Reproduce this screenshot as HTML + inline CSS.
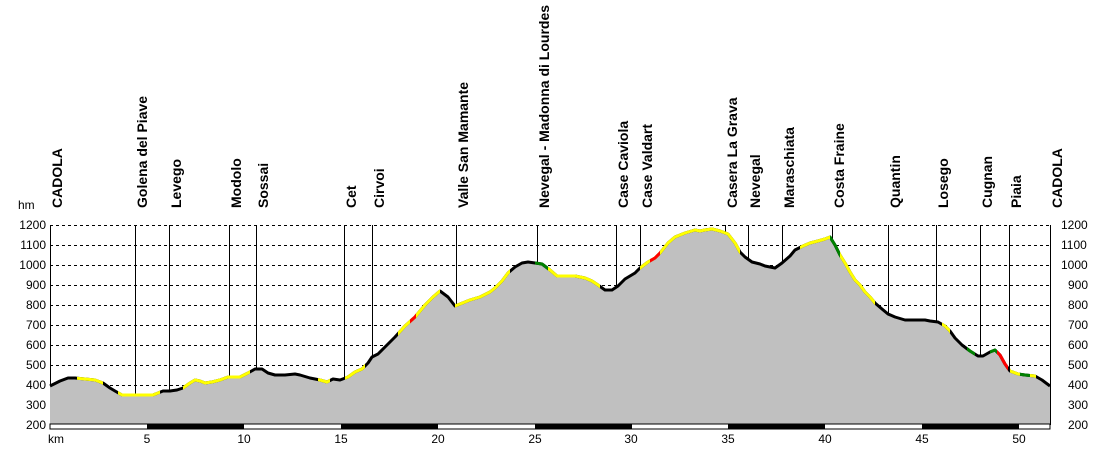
<!DOCTYPE html>
<html><head><meta charset="utf-8"><style>
html,body{margin:0;padding:0;background:#fff}
svg{display:block}
text{font-family:"Liberation Sans",sans-serif;font-size:12px;fill:#000}
.lb{font-weight:bold;font-size:14px}
</style></head><body>
<svg width="1100" height="450" viewBox="0 0 1100 450">
<defs>
<path id="pr" d="M50,386 L60,381 68,378 75,378 85,379 95,380 103,383 110,388 115,391 122,395 130,395 140,395 148,395 153,395 158,393 163,391 170,391 177,390 183,388 190,383 195,380 200,381 205,383 212,382 220,380 228,377 240,377 248,373 255,369 262,369 268,373 275,375 285,375 295,374 300,375 310,378 320,380 327,382 333,379 340,380 348,377 355,372 362,369 368,363 372,357 378,354 385,347 395,337 405,326 415,317 425,305 433,297 440,291 448,297 455,306 460,304 470,300 480,297 490,292 495,288 502,281 508,273 515,267 522,263 528,262 535,263 542,264 550,270 557,276 565,276 575,276 585,278 592,281 598,285 605,290 612,290 618,286 625,279 635,273 640,268 648,262 655,258 660,253 668,243 675,237 685,233 695,230 700,231 705,230 712,229 720,231 728,234 735,243 740,252 745,257 752,262 760,264 765,266 775,268 782,263 790,256 795,250 803,246 810,243 818,241 825,239 830,237 835,245 840,255 845,263 850,272 855,280 860,285 865,292 870,297 875,303 882,309 888,314 895,317 905,320 915,320 925,320 930,321 938,322 945,326 950,331 955,338 962,345 970,351 978,356 983,356 990,352 995,350 1000,355 1005,364 1010,371 1018,374 1025,375 1035,376 1042,380 1050,386"/>
<clipPath id="cy"><rect x="77" y="0" width="26" height="450"/><rect x="118" y="0" width="42" height="450"/><rect x="183" y="0" width="67" height="450"/><rect x="318" y="0" width="12" height="450"/><rect x="345" y="0" width="20" height="450"/><rect x="398" y="0" width="42" height="450"/><rect x="455" y="0" width="55" height="450"/><rect x="548" y="0" width="52" height="450"/><rect x="640" y="0" width="100" height="450"/><rect x="800" y="0" width="30" height="450"/><rect x="840" y="0" width="35" height="450"/><rect x="942" y="0" width="8" height="450"/><rect x="1010" y="0" width="10" height="450"/><rect x="1030" y="0" width="6" height="450"/></clipPath>
<clipPath id="cg"><rect x="535" y="0" width="13" height="450"/><rect x="830" y="0" width="10" height="450"/><rect x="967" y="0" width="8" height="450"/><rect x="990" y="0" width="7" height="450"/><rect x="1020" y="0" width="10" height="450"/></clipPath>
<clipPath id="cr"><rect x="410" y="0" width="6" height="450"/><rect x="650" y="0" width="10" height="450"/><rect x="997" y="0" width="11" height="450"/></clipPath>
</defs>
<g stroke="#000" stroke-dasharray="3,3" stroke-width="1">
<line x1="50" x2="1050" y1="225.5" y2="225.5"/><line x1="50" x2="1050" y1="245.5" y2="245.5"/><line x1="50" x2="1050" y1="265.5" y2="265.5"/><line x1="50" x2="1050" y1="285.5" y2="285.5"/><line x1="50" x2="1050" y1="305.5" y2="305.5"/><line x1="50" x2="1050" y1="325.5" y2="325.5"/><line x1="50" x2="1050" y1="345.5" y2="345.5"/><line x1="50" x2="1050" y1="365.5" y2="365.5"/><line x1="50" x2="1050" y1="385.5" y2="385.5"/><line x1="50" x2="1050" y1="405.5" y2="405.5"/>
</g>
<g stroke="#000" stroke-width="1">
<line x1="50.5" x2="50.5" y1="225" y2="425"/><line x1="135.5" x2="135.5" y1="225" y2="395"/><line x1="169.5" x2="169.5" y1="225" y2="391"/><line x1="229.5" x2="229.5" y1="225" y2="377"/><line x1="256.5" x2="256.5" y1="225" y2="369"/><line x1="344.5" x2="344.5" y1="225" y2="378"/><line x1="372.5" x2="372.5" y1="225" y2="357"/><line x1="456.5" x2="456.5" y1="225" y2="306"/><line x1="537.5" x2="537.5" y1="225" y2="264"/><line x1="616.5" x2="616.5" y1="225" y2="289"/><line x1="640.5" x2="640.5" y1="225" y2="268"/><line x1="725.5" x2="725.5" y1="225" y2="232"/><line x1="748.5" x2="748.5" y1="225" y2="261"/><line x1="782.5" x2="782.5" y1="225" y2="263"/><line x1="832.5" x2="832.5" y1="225" y2="240"/><line x1="888.5" x2="888.5" y1="225" y2="314"/><line x1="936.5" x2="936.5" y1="225" y2="322"/><line x1="980.5" x2="980.5" y1="225" y2="356"/><line x1="1009.5" x2="1009.5" y1="225" y2="371"/><line x1="1050.5" x2="1050.5" y1="225" y2="425"/>
</g>
<path d="M50,386 L60,381 68,378 75,378 85,379 95,380 103,383 110,388 115,391 122,395 130,395 140,395 148,395 153,395 158,393 163,391 170,391 177,390 183,388 190,383 195,380 200,381 205,383 212,382 220,380 228,377 240,377 248,373 255,369 262,369 268,373 275,375 285,375 295,374 300,375 310,378 320,380 327,382 333,379 340,380 348,377 355,372 362,369 368,363 372,357 378,354 385,347 395,337 405,326 415,317 425,305 433,297 440,291 448,297 455,306 460,304 470,300 480,297 490,292 495,288 502,281 508,273 515,267 522,263 528,262 535,263 542,264 550,270 557,276 565,276 575,276 585,278 592,281 598,285 605,290 612,290 618,286 625,279 635,273 640,268 648,262 655,258 660,253 668,243 675,237 685,233 695,230 700,231 705,230 712,229 720,231 728,234 735,243 740,252 745,257 752,262 760,264 765,266 775,268 782,263 790,256 795,250 803,246 810,243 818,241 825,239 830,237 835,245 840,255 845,263 850,272 855,280 860,285 865,292 870,297 875,303 882,309 888,314 895,317 905,320 915,320 925,320 930,321 938,322 945,326 950,331 955,338 962,345 970,351 978,356 983,356 990,352 995,350 1000,355 1005,364 1010,371 1018,374 1025,375 1035,376 1042,380 1050,386 L1050,425 L50,425 Z" fill="#c0c0c0" stroke="none"/>
<g fill="none" stroke-width="3" stroke-linejoin="round">
<g stroke="#000"><use href="#pr"/></g>
<g stroke="#ffff00" clip-path="url(#cy)"><use href="#pr"/></g>
<g stroke="#008000" clip-path="url(#cg)"><use href="#pr"/></g>
<g stroke="#ff0000" clip-path="url(#cr)"><use href="#pr"/></g>
</g>
<rect x="50" y="424" width="1000" height="5" fill="#fff" stroke="#000" stroke-width="1"/>
<g fill="#000"><rect x="147" y="424" width="97" height="5"/><rect x="341" y="424" width="97" height="5"/><rect x="535" y="424" width="97" height="5"/><rect x="728" y="424" width="97" height="5"/><rect x="922" y="424" width="97" height="5"/></g>
<g text-anchor="end">
<text x="46" y="229">1200</text><text x="46" y="249">1100</text><text x="46" y="269">1000</text><text x="46" y="289">900</text><text x="46" y="309">800</text><text x="46" y="329">700</text><text x="46" y="349">600</text><text x="46" y="369">500</text><text x="46" y="389">400</text><text x="46" y="409">300</text><text x="46" y="429">200</text>
</g>
<g text-anchor="start">
<text x="1061" y="229">1200</text><text x="1061" y="249">1100</text><text x="1061" y="269">1000</text><text x="1068" y="289">900</text><text x="1068" y="309">800</text><text x="1068" y="329">700</text><text x="1068" y="349">600</text><text x="1068" y="369">500</text><text x="1068" y="389">400</text><text x="1068" y="409">300</text><text x="1068" y="429">200</text>
</g>
<text x="18" y="209">hm</text>
<text x="48" y="443">km</text>
<g text-anchor="middle">
<text x="147" y="443">5</text><text x="244" y="443">10</text><text x="341" y="443">15</text><text x="438" y="443">20</text><text x="535" y="443">25</text><text x="631" y="443">30</text><text x="728" y="443">35</text><text x="825" y="443">40</text><text x="922" y="443">45</text><text x="1019" y="443">50</text>
</g>
<g>
<text transform="translate(62,208) rotate(-90)" class="lb">CADOLA</text>
<text transform="translate(147,208) rotate(-90)" class="lb">Golena del Piave</text>
<text transform="translate(181,208) rotate(-90)" class="lb">Levego</text>
<text transform="translate(241,208) rotate(-90)" class="lb">Modolo</text>
<text transform="translate(268,208) rotate(-90)" class="lb">Sossai</text>
<text transform="translate(356,208) rotate(-90)" class="lb">Cet</text>
<text transform="translate(384,208) rotate(-90)" class="lb">Cirvoi</text>
<text transform="translate(468,208) rotate(-90)" class="lb">Valle San Mamante</text>
<text transform="translate(549,208) rotate(-90)" class="lb">Nevegal - Madonna di Lourdes</text>
<text transform="translate(628,208) rotate(-90)" class="lb">Case Caviola</text>
<text transform="translate(652,208) rotate(-90)" class="lb">Case Valdart</text>
<text transform="translate(737,208) rotate(-90)" class="lb">Casera La Grava</text>
<text transform="translate(760,208) rotate(-90)" class="lb">Nevegal</text>
<text transform="translate(794,208) rotate(-90)" class="lb">Maraschiata</text>
<text transform="translate(844,208) rotate(-90)" class="lb">Costa Fraine</text>
<text transform="translate(900,208) rotate(-90)" class="lb">Quantin</text>
<text transform="translate(948,208) rotate(-90)" class="lb">Losego</text>
<text transform="translate(992,208) rotate(-90)" class="lb">Cugnan</text>
<text transform="translate(1021,208) rotate(-90)" class="lb">Piaia</text>
<text transform="translate(1062,208) rotate(-90)" class="lb">CADOLA</text>
</g>
</svg>
</body></html>
